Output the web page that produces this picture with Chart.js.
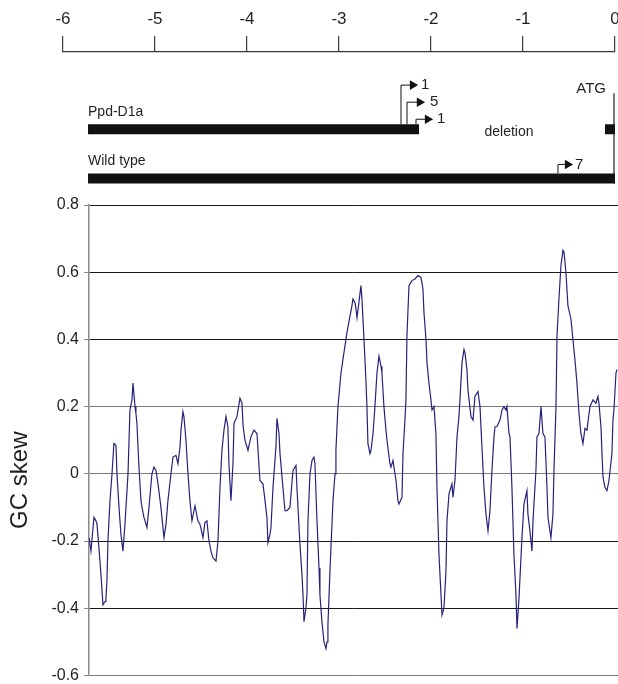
<!DOCTYPE html>
<html><head><meta charset="utf-8">
<script src="https://cdn.jsdelivr.net/npm/chart.js@4.4.1/dist/chart.umd.min.js"></script>
<style>
html,body{margin:0;padding:0;background:#fff;overflow:hidden;width:618px;height:684px;position:relative;}
#top{position:absolute;left:0;top:0;width:630px;height:196px;}
#bot{position:absolute;left:0;top:190px;width:618px;height:500px;}
</style></head><body>
<div id="top"><canvas id="c1"></canvas></div>
<div id="bot"><canvas id="c2"></canvas></div>
<script>
// ---------- data ----------
const kbTicks = [-6, -5, -4, -3, -2, -1, 0];
const skewTicks = [-0.6, -0.4, -0.2, 0, 0.2, 0.4, 0.6, 0.8];
const skewTickLabels = ['-0.6', '-0.4', '-0.2', '0', '0.2', '0.4', '0.6', '0.8'];

// position (kb relative to ATG)
const skewPos = [
 -5.717,-5.696,-5.663,-5.641,-5.630,-5.609,-5.587,-5.565,-5.543,-5.533,
 -5.522,-5.511,-5.489,-5.467,-5.446,-5.424,-5.413,-5.391,-5.370,-5.348,
 -5.326,-5.304,-5.293,-5.272,-5.250,-5.239,-5.217,-5.207,-5.196,-5.174,
 -5.152,-5.141,-5.120,-5.098,-5.087,-5.065,-5.033,-5.011,-4.989,-4.967,
 -4.935,-4.913,-4.902,-4.880,-4.859,-4.826,-4.804,-4.772,-4.750,-4.728,
 -4.717,-4.696,-4.685,-4.663,-4.641,-4.620,-4.598,-4.565,-4.533,-4.511,
 -4.478,-4.457,-4.435,-4.413,-4.391,-4.370,-4.337,-4.315,-4.293,-4.272,
 -4.250,-4.228,-4.207,-4.196,-4.174,-4.152,-4.141,-4.109,-4.076,-4.054,
 -4.043,-4.022,-3.989,-3.957,-3.924,-3.891,-3.859,-3.826,-3.804,-3.783,
 -3.772,-3.750,-3.739,-3.717,-3.685,-3.674,-3.652,-3.641,-3.609,-3.587,
 -3.565,-3.533,-3.500,-3.467,-3.457,-3.424,-3.402,-3.391,-3.380,-3.359,
 -3.348,-3.337,-3.315,-3.293,-3.272,-3.261,-3.239,-3.217,-3.207,-3.185,
 -3.163,-3.141,-3.130,-3.120,-3.098,-3.065,-3.043,-3.033,-3.011,-2.978,
 -2.957,-2.935,-2.913,-2.880,-2.859,-2.848,-2.826,-2.815,-2.804,-2.783,
 -2.761,-2.750,-2.728,-2.707,-2.696,-2.685,-2.663,-2.652,-2.630,-2.609,
 -2.587,-2.565,-2.543,-2.533,-2.511,-2.489,-2.478,-2.446,-2.435,-2.413,
 -2.380,-2.359,-2.348,-2.315,-2.304,-2.283,-2.272,-2.261,-2.239,-2.207,
 -2.174,-2.141,-2.109,-2.087,-2.076,-2.054,-2.043,-2.022,-2.000,-1.989,
 -1.967,-1.946,-1.935,-1.913,-1.891,-1.880,-1.859,-1.837,-1.826,-1.804,
 -1.772,-1.761,-1.739,-1.717,-1.696,-1.685,-1.663,-1.641,-1.630,-1.609,
 -1.598,-1.565,-1.543,-1.522,-1.489,-1.467,-1.446,-1.424,-1.402,-1.380,
 -1.359,-1.337,-1.315,-1.304,-1.283,-1.250,-1.228,-1.207,-1.185,-1.174,
 -1.152,-1.141,-1.120,-1.098,-1.076,-1.065,-1.043,-1.011,-0.989,-0.957,
 -0.946,-0.924,-0.902,-0.891,-0.859,-0.848,-0.826,-0.804,-0.783,-0.761,
 -0.739,-0.728,-0.696,-0.674,-0.663,-0.641,-0.630,-0.609,-0.587,-0.565,
 -0.554,-0.533,-0.511,-0.478,-0.457,-0.435,-0.413,-0.391,-0.370,-0.348,
 -0.326,-0.304,-0.272,-0.239,-0.207,-0.185,-0.174,-0.152,-0.141,-0.130,
 -0.109,-0.087,-0.065,-0.033,-0.022,-0.011,0.011,0.022
];
// GC skew values
const skewVal = [
 -0.19,-0.23,-0.13,-0.14,-0.15,-0.22,-0.30,-0.39,-0.38,-0.37,
 -0.32,-0.20,-0.08,0.00,0.09,0.085,0.00,-0.10,-0.18,-0.23,
 -0.15,-0.05,0.00,0.19,0.22,0.27,0.20,0.18,0.15,0.02,
 -0.08,-0.10,-0.13,-0.15,-0.16,-0.10,0.00,0.02,0.01,-0.03,
 -0.10,-0.16,-0.19,-0.15,-0.08,0.00,0.05,0.055,0.03,0.08,
 0.13,0.185,0.17,0.10,0.00,-0.08,-0.14,-0.095,-0.14,-0.15,
 -0.19,-0.145,-0.14,-0.20,-0.23,-0.25,-0.26,-0.20,-0.04,0.07,
 0.13,0.17,0.14,0.03,-0.08,0.03,0.15,0.17,0.225,0.21,
 0.145,0.10,0.07,0.11,0.13,0.12,-0.02,-0.03,-0.08,-0.13,
 -0.205,-0.18,-0.16,-0.04,0.08,0.165,0.12,0.06,-0.04,-0.11,
 -0.11,-0.10,0.01,0.025,-0.04,-0.21,-0.30,-0.36,-0.44,-0.40,
 -0.36,-0.14,0.00,0.04,0.05,0.03,-0.14,-0.28,-0.36,-0.44,
 -0.50,-0.52,-0.50,-0.45,-0.29,-0.08,0.00,0.07,0.20,0.30,
 0.34,0.38,0.42,0.47,0.50,0.52,0.51,0.49,0.465,0.51,
 0.56,0.52,0.40,0.28,0.20,0.09,0.06,0.07,0.12,0.20,
 0.30,0.35,0.32,0.30,0.20,0.13,0.10,0.03,0.02,0.04,
 -0.02,-0.08,-0.09,-0.07,0.06,0.16,0.22,0.41,0.56,0.575,
 0.58,0.59,0.585,0.55,0.48,0.40,0.33,0.27,0.22,0.19,
 0.20,0.12,-0.04,-0.24,-0.36,-0.42,-0.40,-0.29,-0.14,-0.06,
 -0.03,-0.07,-0.02,0.11,0.17,0.22,0.33,0.37,0.36,0.31,
 0.25,0.17,0.16,0.23,0.245,0.20,0.08,-0.04,-0.12,-0.17,
 -0.11,0.01,0.11,0.14,0.14,0.16,0.19,0.20,0.19,0.20,
 0.12,0.11,-0.04,-0.24,-0.36,-0.46,-0.37,-0.19,-0.09,-0.05,
 -0.12,-0.17,-0.23,-0.14,0.01,0.11,0.12,0.20,0.12,0.11,
 -0.04,-0.13,-0.19,-0.12,0.01,0.20,0.41,0.52,0.62,0.665,
 0.66,0.60,0.50,0.46,0.40,0.34,0.27,0.18,0.12,0.09,
 0.135,0.13,0.20,0.22,0.21,0.23,0.21,0.14,0.06,-0.01,
 -0.04,-0.05,-0.02,0.06,0.16,0.19,0.30,0.31
];

// gene map (kb), rows in diagram units
const ppdSegments = [[-5.728, -2.13], [-0.109, 0]];
const wildSegments = [[-5.728, 0]];
const ppdRow = 6.1, wildRow = 1.2, ppdTop = 6.6, wildTop = 1.7;
// transcription start arrows: [start kb, base level, arrow level, head kb, label kb, label]
const tssArrows = [
  [-2.326, ppdTop, 10.5, -2.200, -2.109, '1'],
  [-2.261, ppdTop, 8.8, -2.124, -2.011, '5'],
  [-2.163, ppdTop, 7.1, -2.037, -1.935, '1'],
  [-0.620, wildTop, 2.6, -0.515, -0.435, '7']
];
const atgLine = [-0.011, 0.7, 9.7];
const mapLabels = [
  ['Ppd-D1a', -5.728, 7.8, 'left', 14],
  ['Wild type', -5.728, 2.9, 'left', 14],
  ['deletion', -1.152, 5.8, 'center', 14],
  ['ATG', -0.098, 10.1, 'right', 15]
];

const FONT = '"Liberation Sans", Arial, Helvetica, sans-serif';
const INK = '#231f20';

// ---------- top: genomic map ----------
const mapDatasets = [];
ppdSegments.forEach(s => mapDatasets.push({
  data: [{x: s[0], y: ppdRow}, {x: s[1], y: ppdRow}],
  borderColor: '#111', borderWidth: 10, borderCapStyle: 'butt', pointRadius: 0
}));
wildSegments.forEach(s => mapDatasets.push({
  data: [{x: s[0], y: wildRow}, {x: s[1], y: wildRow}],
  borderColor: '#111', borderWidth: 10, borderCapStyle: 'butt', pointRadius: 0
}));
tssArrows.forEach(a => mapDatasets.push({
  data: [{x: a[0], y: a[1]}, {x: a[0], y: a[2]}, {x: a[3], y: a[2]}],
  borderColor: '#111', borderWidth: 1, pointRadius: [0, 0, 5.5],
  pointStyle: 'triangle', rotation: 90, pointBackgroundColor: '#111',
  pointBorderColor: '#111', pointBorderWidth: 0
}));
mapDatasets.push({
  data: [{x: atgLine[0], y: atgLine[1]}, {x: atgLine[0], y: atgLine[2]}],
  borderColor: '#555', borderWidth: 1.6, pointRadius: 0
});

const textPlugin = {
  id: 'mapText',
  afterDatasetsDraw(chart) {
    const {ctx, scales: {x, y}} = chart;
    ctx.save();
    ctx.fillStyle = INK;
    ctx.textBaseline = 'middle';
    mapLabels.forEach(l => {
      ctx.font = l[4] + 'px ' + FONT;
      ctx.textAlign = l[3];
      ctx.fillText(l[0], x.getPixelForValue(l[1]), y.getPixelForValue(l[2]));
    });
    ctx.font = '15px ' + FONT;
    ctx.textAlign = 'left';
    tssArrows.forEach(a => {
      ctx.fillText(a[5], x.getPixelForValue(a[4]), y.getPixelForValue(a[2]));
    });
    ctx.restore();
  }
};

new Chart(document.getElementById('c1'), {
  type: 'line',
  data: {datasets: mapDatasets},
  plugins: [textPlugin],
  options: {
    animation: false, responsive: true, maintainAspectRatio: false,
    events: [],
    layout: {padding: {left: 63, right: 15, top: 0, bottom: 0}},
    plugins: {legend: {display: false}, tooltip: {enabled: false}},
    scales: {
      x: {
        type: 'linear', position: 'top', min: -6, max: 0,
        afterBuildTicks: s => { s.ticks = kbTicks.map(v => ({value: v})); },
        afterFit: s => { s.height = 52; },
        ticks: {font: {family: FONT, size: 17}, color: INK, padding: 6, maxRotation: 0},
        grid: {drawOnChartArea: false, drawTicks: true, tickLength: 16, tickColor: '#3a3a3a', lineWidth: 1.2},
        border: {display: true, color: '#3a3a3a', width: 1.2}
      },
      y: {type: 'linear', display: false, min: 0, max: 13.8}
    }
  }
});

// ---------- bottom: GC skew ----------
new Chart(document.getElementById('c2'), {
  type: 'line',
  data: {datasets: [{
    data: skewPos.map((p, i) => ({x: p, y: skewVal[i]})),
    borderColor: '#25227c', borderWidth: 1.2, pointRadius: 0, tension: 0
  }]},
  options: {
    animation: false, responsive: true, maintainAspectRatio: false,
    events: [],
    layout: {padding: {left: 0, right: 0, top: 15, bottom: 3}},
    plugins: {legend: {display: false}, tooltip: {enabled: false}},
    scales: {
      x: {type: 'linear', display: false, min: -5.717, max: 0.033},
      y: {
        type: 'linear', min: -0.6, max: 0.8,
        afterBuildTicks: s => { s.ticks = skewTicks.map(v => ({value: v})); },
        afterFit: s => { s.width = 89; },
        ticks: {
          font: {family: FONT, size: 16}, color: INK, padding: 5,
          callback: (v, i) => skewTickLabels[i]
        },
        grid: {
          color: c => ([0, 0.2, -0.6].some(t => Math.abs(c.tick.value - t) < 1e-9) ? '#7a7a7a' : '#1a1a1a'),
          lineWidth: 1, tickLength: 5, tickColor: '#888'
        },
        border: {display: true, color: '#8a8a8a', width: 1.5},
        title: {
          display: true,
          text: 'GC skew\u00a0\u00a0\u00a0\u00a0\u00a0\u00a0\u00a0\u00a0\u00a0\u00a0\u00a0\u00a0',
          font: {family: FONT, size: 24}, color: INK, padding: {top: 6, bottom: 0}
        }
      }
    }
  }
});
</script>
</body></html>
